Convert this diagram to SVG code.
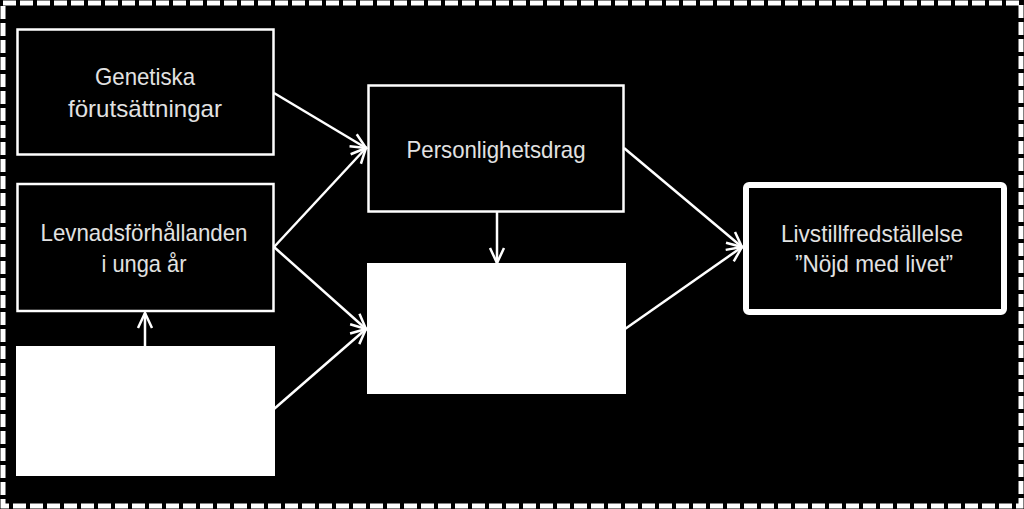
<svg xmlns="http://www.w3.org/2000/svg" width="1024" height="509" viewBox="0 0 1024 509">
<style>
.bg{fill:#000;}
.frame{fill:none;stroke:#fff;stroke-width:5;stroke-dasharray:13 4;}
.box{fill:#000;stroke:#fff;stroke-width:2.5;}
.wbox{fill:#fff;stroke:#fff;stroke-width:2;}
.tbox{fill:#000;stroke:#fff;stroke-width:6;}
.lbl{font-family:"Liberation Sans Narrow","Liberation Sans",Arial,sans-serif;font-size:24px;fill:#e2e2e2;}
.con{stroke:#fff;stroke-width:2.5;fill:none;marker-end:url(#ah);}
</style>
<defs>
<marker id="ah" markerUnits="userSpaceOnUse" viewBox="-16 -9 18 18" refX="0" refY="0" markerWidth="18" markerHeight="18" orient="auto">
<path d="M-15,-7 L0,0 L-15,7" fill="none" stroke="#fff" stroke-width="2.5" stroke-linejoin="miter"/>
</marker>
</defs>
<rect class="bg" x="0" y="0" width="1024" height="509"/>
<rect class="frame" x="3" y="3" width="1018" height="503"/>
<g id="genetiska">
<rect class="box" x="17.5" y="29.5" width="256" height="125"/>
<text class="lbl" x="145" y="85" text-anchor="middle" textLength="100" lengthAdjust="spacingAndGlyphs">Genetiska</text>
<text class="lbl" x="145" y="117" text-anchor="middle" textLength="154" lengthAdjust="spacingAndGlyphs">förutsättningar</text>
</g>
<g id="levnad">
<rect class="box" x="17.5" y="184" width="256" height="127"/>
<text class="lbl" x="144" y="241" text-anchor="middle" textLength="207" lengthAdjust="spacingAndGlyphs">Levnadsförhållanden</text>
<text class="lbl" x="144" y="272" text-anchor="middle" textLength="85" lengthAdjust="spacingAndGlyphs">i unga år</text>
</g>
<g id="bottomleft">
<rect class="wbox" x="17" y="347" width="257" height="128"/>
</g>
<g id="personlighet">
<rect class="box" x="368.5" y="85.5" width="255" height="126"/>
<text class="lbl" x="496" y="158" text-anchor="middle" textLength="179" lengthAdjust="spacingAndGlyphs">Personlighetsdrag</text>
</g>
<g id="middle">
<rect class="wbox" x="368" y="264" width="257" height="129"/>
</g>
<g id="livstill">
<rect class="tbox" x="746" y="185" width="258" height="127" rx="3"/>
<text class="lbl" x="872" y="242" text-anchor="middle" textLength="182" lengthAdjust="spacingAndGlyphs">Livstillfredställelse</text>
<text class="lbl" x="874" y="272" text-anchor="middle" textLength="158" lengthAdjust="spacingAndGlyphs">”Nöjd med livet”</text>
</g>
<g id="connectors">
<line class="con" x1="274" y1="93" x2="366" y2="148"/>
<line class="con" x1="274" y1="247" x2="366" y2="148"/>
<line class="con" x1="274" y1="247" x2="366" y2="329"/>
<line class="con" x1="274" y1="409" x2="366" y2="329"/>
<line class="con" x1="145" y1="346" x2="145" y2="313"/>
<line class="con" x1="497" y1="212" x2="497" y2="263"/>
<line class="con" x1="624" y1="148" x2="742" y2="247"/>
<line class="con" x1="625" y1="329" x2="742" y2="247"/>
</g>
</svg>
